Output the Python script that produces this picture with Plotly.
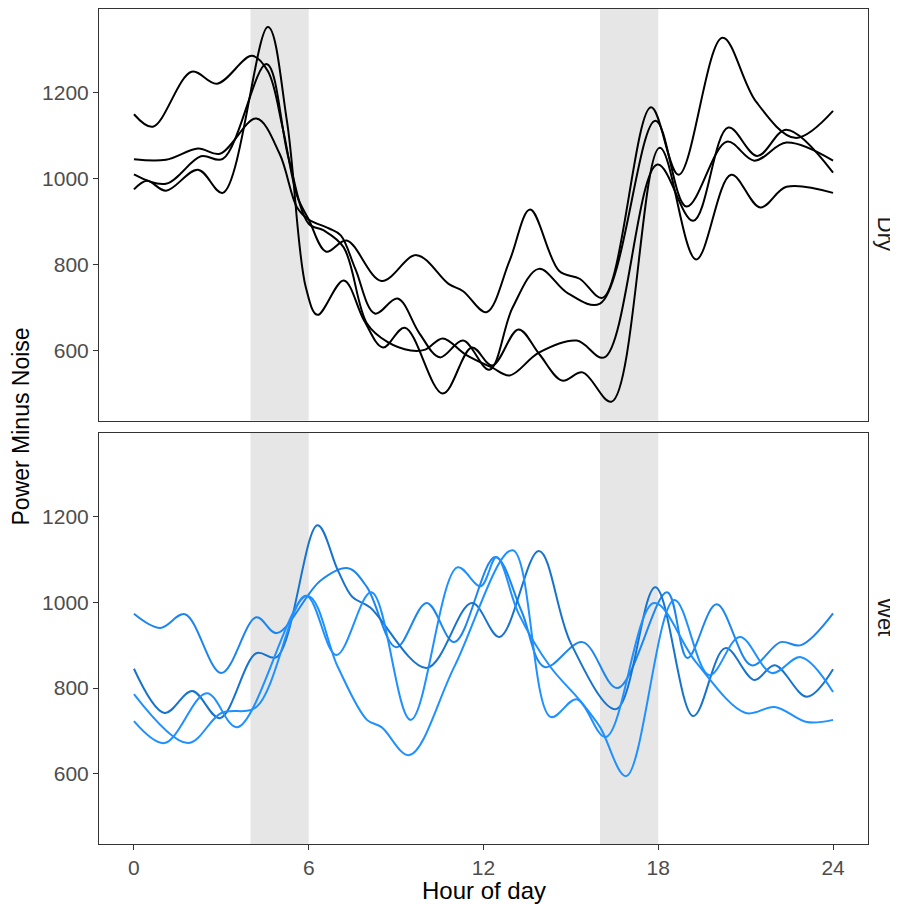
import plotly.graph_objects as go
from plotly.subplots import make_subplots

# ---------------- data (hour of day, power minus noise) ----------------
dry_1_hour = [0, 0.65, 1.98, 2.85, 4.05, 4.6, 5.1, 5.6, 6.0, 6.6, 7.3, 8.5, 9.7, 10.8, 11.3, 12.1, 12.9, 13.6, 14.6, 15.3, 16.1, 17.75, 18.7, 20.2, 21.35, 22.7, 24]
dry_1_power = [1150, 1121, 1249, 1221, 1286, 1250, 1120, 960, 905, 830, 856, 762, 822, 755, 738, 689, 810, 928, 785, 767, 723, 1166, 1009, 1328, 1180, 1095, 1158]

dry_2_hour = [0, 1.1, 2.2, 2.95, 4.2, 5.0, 5.6, 6.0, 6.7, 7.1, 7.6, 8.27, 9.05, 9.8, 10.5, 11.3, 12.2, 13.0, 13.9, 14.9, 16.0, 17.9, 18.97, 20.35, 21.3, 22.4, 24]
dry_2_power = [1045, 1044, 1070, 1058, 1140, 1058, 933, 905, 884, 868, 790, 686, 721, 640, 584, 623, 555, 700, 790, 733, 709, 1135, 935, 1086, 1042, 1084, 1042]

dry_3_hour = [0, 1.1, 2.3, 3.05, 4.55, 5.3, 6.0, 6.5, 7.2, 8.0, 8.7, 9.5, 10.0, 10.6, 11.4, 12.3, 12.9, 13.9, 15.2, 16.15, 17.97, 19.2, 20.4, 21.4, 22.4, 24]
dry_3_power = [1010, 988, 1052, 1046, 1267, 1050, 895, 880, 840, 663, 620, 600, 602, 628, 590, 560, 542, 595, 623, 584, 1033, 902, 1119, 1053, 1114, 1014]

dry_4_hour = [0, 0.45, 1.1, 2.2, 3.05, 4.6, 5.25, 5.9, 6.3, 7.2, 7.9, 8.55, 9.3, 10.6, 11.6, 12.3, 13.2, 13.9, 14.7, 15.4, 16.4, 18.05, 19.3, 20.5, 21.5, 22.4, 24]
dry_4_power = [975, 995, 972, 1021, 967, 1353, 1135, 747, 683, 763, 670, 607, 653, 500, 607, 565, 649, 593, 530, 549, 481, 1072, 812, 1009, 933, 981, 967]

wet_1_hour = [0, 0.9, 1.75, 3.0, 4.2, 4.9, 6.4, 7.35, 8.0, 9.0, 10.05, 11.0, 12.4, 13.3, 14.1, 15.4, 16.6, 18.3, 19.0, 20.0, 21.2, 22.2, 22.9, 24]
wet_1_power = [973, 940, 972, 835, 965, 928, 1050, 1079, 1035, 895, 998, 907, 1105, 980, 849, 907, 800, 1023, 870, 995, 853, 907, 900, 974]

wet_2_hour = [0, 1.05, 2.0, 2.95, 4.2, 4.9, 6.3, 7.0, 7.5, 8.1, 10.05, 11.6, 12.55, 13.9, 15.0, 16.55, 17.9, 19.2, 20.3, 21.3, 22.0, 23.1, 24]
wet_2_power = [845, 742, 793, 730, 881, 872, 1179, 1074, 1012, 988, 847, 998, 919, 1119, 904, 751, 1035, 735, 893, 819, 853, 780, 844]

wet_3_hour = [0, 1.85, 3.0, 4.2, 5.9, 6.95, 8.15, 9.5, 11.1, 11.9, 12.45, 13.2, 14.3, 15.3, 16.0, 16.9, 18.55, 19.75, 20.8, 21.9, 22.9, 24]
wet_3_power = [786, 672, 742, 756, 1015, 877, 1023, 726, 1081, 1037, 1105, 974, 849, 772, 709, 595, 1005, 830, 919, 835, 872, 791]

wet_4_hour = [0, 1.05, 2.5, 3.55, 5.95, 7.0, 8.0, 8.5, 9.45, 11.0, 13.0, 14.3, 15.2, 16.2, 17.85, 19.3, 21.0, 22.0, 23.1, 24]
wet_4_power = [723, 672, 788, 709, 1015, 849, 726, 709, 644, 850, 1121, 733, 774, 686, 998, 860, 742, 756, 721, 726]

shade_start = [4, 16]
shade_end = [6, 18]
x_ticks = [0, 6, 12, 18, 24]
y_ticks = [600, 800, 1000, 1200]
panel_labels = ["Dry", "Wet"]

# ---------------- figure ----------------
fig = make_subplots(rows=2, cols=1, shared_xaxes=True, vertical_spacing=12 / 835)

dry = [(dry_1_hour, dry_1_power), (dry_2_hour, dry_2_power),
       (dry_3_hour, dry_3_power), (dry_4_hour, dry_4_power)]
wet = [(wet_1_hour, wet_1_power, "#1C86EE"), (wet_2_hour, wet_2_power, "#1873CC"),
       (wet_3_hour, wet_3_power, "#1E90FF"), (wet_4_hour, wet_4_power, "#1E90FF")]

for hx, pv in dry:
    fig.add_trace(go.Scatter(x=hx, y=pv, mode="lines",
                             line=dict(color="black", width=2, shape="spline", smoothing=1.0),
                             showlegend=False, hoverinfo="skip"), row=1, col=1)
for hx, pv, c in wet:
    fig.add_trace(go.Scatter(x=hx, y=pv, mode="lines",
                             line=dict(color=c, width=2, shape="spline", smoothing=1.0),
                             showlegend=False, hoverinfo="skip"), row=2, col=1)

for s, e in zip(shade_start, shade_end):
    for yref, xref in (("y domain", "x"), ("y2 domain", "x2")):
        fig.add_shape(type="rect", x0=s, x1=e, y0=0, y1=1, xref=xref, yref=yref,
                      fillcolor="#E6E6E6", line_width=0, layer="below")

font_family = "Liberation Sans, Arial, Helvetica, sans-serif"
axis_common = dict(showgrid=False, zeroline=False, showline=True, mirror=True,
                   linecolor="#333333", linewidth=1, automargin=False)

fig.update_xaxes(range=[-1.2, 25.2], tickvals=x_ticks, **axis_common)
fig.update_xaxes(ticks="", showticklabels=False, row=1, col=1)
fig.update_xaxes(ticks="outside", ticklen=5, tickcolor="#333333", tickwidth=1,
                 tickfont=dict(size=21, color="#4D4D4D", family=font_family),
                 row=2, col=1)
fig.update_yaxes(range=[437, 1395], tickvals=y_ticks, ticks="outside", ticklen=5,
                 tickcolor="#333333", tickwidth=1,
                 tickfont=dict(size=21, color="#4D4D4D", family=font_family), **axis_common)

fig.add_annotation(text="Hour of day", x=0.5, xanchor="center", y=0, yref="paper",
                   xref="paper", yanchor="middle", yshift=-46, showarrow=False,
                   font=dict(size=24, color="black", family=font_family))
fig.add_annotation(text="Power Minus Noise", x=-79 / 769, xanchor="center", y=0.5,
                   xref="paper", yref="paper", textangle=-90, showarrow=False,
                   font=dict(size=23, color="black", family=font_family))
for lbl, yy in zip(panel_labels, [0.7536, 0.2464]):
    fig.add_annotation(text=lbl, x=1.0, xshift=17, xanchor="center", y=yy,
                       xref="paper", yref="paper", textangle=90, showarrow=False,
                       font=dict(size=22, color="#1A1A1A", family=font_family))

# page body adds an 8px offset, so the figure is 8px smaller and shifted
fig.update_layout(width=890, height=896, margin=dict(l=91, r=30, t=1, b=60, autoexpand=False),
                  plot_bgcolor="white", paper_bgcolor="white")

fig.write_html("out.html")
